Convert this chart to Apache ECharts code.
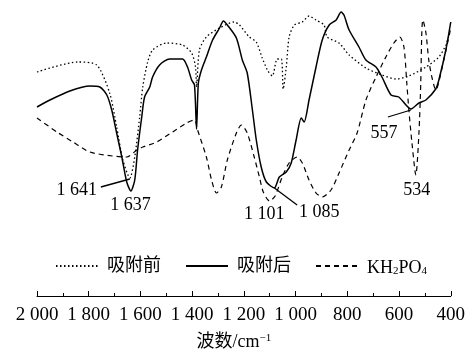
<!DOCTYPE html>
<html>
<head>
<meta charset="utf-8">
<script src="https://cdn.jsdelivr.net/npm/echarts@6/dist/echarts.min.js"></script>
<style>
  html, body { margin: 0; padding: 0; background: #fff; }
  #chart { width: 468px; height: 356px; }
</style>
</head>
<body>
<div id="chart"></div>
<script>
// FTIR spectra, wavenumber (cm-1) vs transmittance (arbitrary units)
const wnBefore = [2000,1842,1769,1719,1692,1668,1641,1622,1603,1591,1572,1553,1499,1437,1402,1387,1383,1372,1345,1294,1237,1217,1179,1152,1129,1109,1090,1071,1055,1048,1036,1025,1005,974,948,921,890,878,832,793,728,666,612,562,496,446,419,404]
const tBefore = [224,234,231,203,169,136,118,139,179,209,234,246,253,251,243,229,209,246,259,268,274,271,259,254,238,226,220,237,237,207,229,259,271,274,280,276,271,259,253,241,228,221,217,220,229,239,251,263]

const wnAfter = [2000,1950,1873,1796,1757,1730,1711,1692,1672,1653,1637,1622,1611,1595,1584,1564,1553,1526,1487,1437,1418,1402,1391,1383,1376,1364,1345,1321,1294,1279,1264,1229,1206,1187,1167,1152,1133,1113,1082,1063,1036,1017,998,978,967,948,921,897,870,843,824,813,793,755,728,689,666,631,601,554,523,496,458,446,419,400]
const tAfter = [189,196,205,210,209,201,186,163,139,114,105,116,146,179,199,209,219,231,237,237,229,216,211,167,213,226,239,256,268,275,271,258,236,223,186,156,129,114,108,119,124,133,156,178,174,196,229,256,271,276,284,281,266,249,236,229,219,201,199,187,193,196,207,216,246,274]

const wnKH2PO4 = [2000,1923,1861,1796,1707,1653,1614,1591,1537,1476,1422,1391,1379,1345,1325,1306,1287,1264,1229,1210,1187,1160,1140,1125,1101,1079,1052,1025,994,974,948,921,897,863,832,793,762,728,689,651,620,597,581,570,562,550,535,523,516,512,508,496,485,473,458,427,400]
const tKH2PO4 = [178,164,154,144,140,139,146,149,154,164,173,176,166,139,116,103,109,136,163,171,163,139,119,104,95,100,119,133,139,133,116,103,99,106,123,146,163,196,219,239,253,259,249,213,186,153,121,163,213,263,276,263,236,219,206,236,268]

const seriesNames = ['吸附前', '吸附后', 'KH2PO4']

// peak labels: text, anchor [wavenumber, T]
const peakLabels = [
  ['1 641', 1846, 106],
  ['1 637', 1638, 91],
  ['1 101', 1121, 82],
  ['1 085', 909, 84],
  ['557', 658, 163],
  ['534', 531, 106]
]
// leader lines: [from wn, from T, to wn, to T]
const leaders = [
  [1753, 109, 1641, 117],
  [1082, 108, 994, 91],
  [643, 179, 554, 186]
]

const serif = '"Liberation Serif", "Noto Sans CJK SC", serif'
const zip = (xs, ys) => xs.map((x, i) => [x, ys[i]])

const chart = echarts.init(document.getElementById('chart'))

const lineSeries = (name, data, type, width) => ({
  name,
  type: 'line',
  data,
  smooth: 0.25,
  symbol: 'none',
  lineStyle: { color: '#000', width, type },
  itemStyle: { color: '#000' },
  silent: true
})

chart.setOption({
  animation: false,
  backgroundColor: '#fff',
  textStyle: { fontFamily: serif },
  grid: { left: 37, right: 16, top: 0, bottom: 60 },
  legend: {
    left: 50,
    top: 252,
    itemWidth: 42,
    itemHeight: 14,
    itemGap: 24,
    data: seriesNames,
    itemStyle: { opacity: 0, borderWidth: 0 },
    formatter: name => name === 'KH2PO4' ? '{n|KH}{s|2}{n|PO}{s|4}' : name,
    textStyle: {
      fontFamily: serif,
      fontSize: 18,
      color: '#000',
      padding: [0, 0, 0, 4],
      rich: {
        n: { fontFamily: serif, fontSize: 18, color: '#000', lineHeight: 22, verticalAlign: 'bottom' },
        s: { fontFamily: serif, fontSize: 11, color: '#000', lineHeight: 11, verticalAlign: 'bottom' }
      }
    }
  },
  xAxis: {
    type: 'value',
    min: 400,
    max: 2000,
    interval: 200,
    inverse: true,
    name: '波数/cm{sup|−1}',
    nameLocation: 'middle',
    nameGap: 37,
    nameTextStyle: {
      fontFamily: serif,
      fontSize: 18,
      color: '#000',
      padding: [0, 20, 0, 0],
      rich: {
        sup: { fontFamily: serif, fontSize: 11, color: '#000', lineHeight: 11, verticalAlign: 'top' }
      }
    },
    axisLine: { lineStyle: { color: '#000', width: 1 } },
    axisTick: { inside: true, length: 5, lineStyle: { color: '#000' } },
    minorTick: { show: true, splitNumber: 2, length: 3, lineStyle: { color: '#000' } },
    axisLabel: {
      margin: 10,
      fontFamily: serif,
      fontSize: 19,
      color: '#000',
      formatter: v => v >= 1000 ? Math.floor(v / 1000) + ' ' + String(v % 1000).padStart(3, '0') : String(v)
    },
    splitLine: { show: false }
  },
  yAxis: {
    type: 'value',
    min: 0,
    max: 296,
    show: false
  },
  series: [
    lineSeries('吸附前', zip(wnBefore, tBefore), [1.5, 2.5], 1.3),
    lineSeries('吸附后', zip(wnAfter, tAfter), 'solid', 1.5),
    lineSeries('KH2PO4', zip(wnKH2PO4, tKH2PO4), [5, 4], 1.2)
  ]
})

const toPx = (w, t) => chart.convertToPixel({ gridIndex: 0 }, [w, t])

const graphics = []
leaders.forEach(([w1, t1, w2, t2]) => {
  const a = toPx(w1, t1)
  const b = toPx(w2, t2)
  graphics.push({
    type: 'line',
    shape: { x1: a[0], y1: a[1], x2: b[0], y2: b[1] },
    style: { stroke: '#000', lineWidth: 1.3 },
    silent: true
  })
})
peakLabels.forEach(([text, w, t]) => {
  const p = toPx(w, t)
  graphics.push({
    type: 'text',
    x: p[0],
    y: p[1],
    style: {
      text,
      fontFamily: serif,
      fontSize: 18,
      fill: '#000',
      align: 'center',
      verticalAlign: 'middle'
    },
    silent: true
  })
})
chart.setOption({ graphic: graphics })

window.addEventListener('resize', () => chart.resize())
</script>
</body>
</html>
